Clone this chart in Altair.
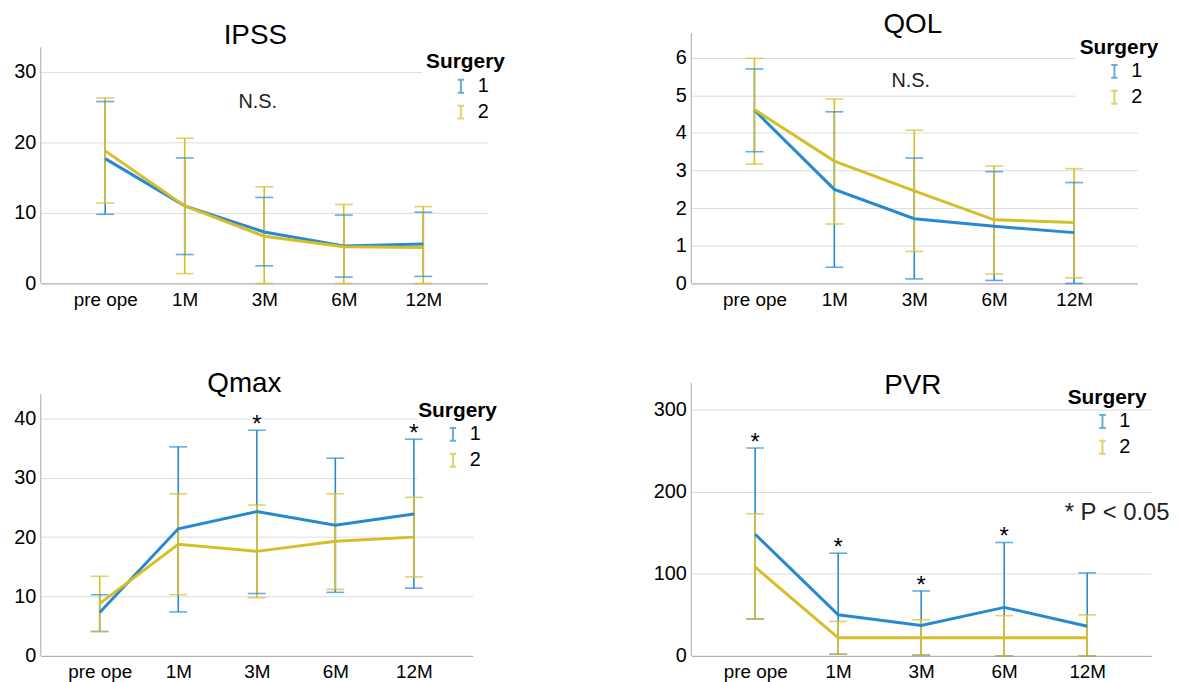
import altair as alt
import pandas as pd

FONT = "Liberation Sans"
BLUE = "#2889d0"
YELLOW = "#d6be28"
AXIS_GRAY = "#a8a8a8"
GRID_GRAY = "#dcdcdc"

times = ["pre ope", "1M", "3M", "6M", "12M"]
groups = ["1", "2"]

# IPSS
ipss_mean_1 = [17.7, 11.0, 7.3, 5.3, 5.6]
ipss_hi_1 = [25.8, 17.8, 12.2, 9.7, 10.1]
ipss_lo_1 = [9.8, 4.1, 2.5, 0.9, 1.0]
ipss_mean_2 = [18.8, 11.0, 6.7, 5.2, 5.1]
ipss_hi_2 = [26.3, 20.6, 13.7, 11.2, 10.9]
ipss_lo_2 = [11.4, 1.4, 0.0, 0.0, 0.0]

# QOL
qol_mean_1 = [4.60, 2.50, 1.72, 1.52, 1.35]
qol_hi_1 = [5.70, 4.56, 3.33, 2.97, 2.68]
qol_lo_1 = [3.50, 0.43, 0.12, 0.08, 0.00]
qol_mean_2 = [4.62, 3.25, 2.46, 1.69, 1.62]
qol_hi_2 = [5.98, 4.90, 4.07, 3.12, 3.05]
qol_lo_2 = [3.17, 1.58, 0.85, 0.25, 0.15]

# Qmax
qmax_mean_1 = [7.3, 21.4, 24.3, 22.0, 23.9]
qmax_hi_1 = [10.3, 35.2, 38.0, 33.3, 36.5]
qmax_lo_1 = [4.1, 7.4, 10.5, 10.7, 11.4]
qmax_mean_2 = [8.8, 18.8, 17.6, 19.3, 20.0]
qmax_hi_2 = [13.4, 27.3, 25.4, 27.3, 26.7]
qmax_lo_2 = [4.1, 10.3, 9.8, 11.2, 13.3]

# PVR
pvr_mean_1 = [148, 50, 37, 59, 36]
pvr_hi_1 = [253, 125, 79, 138, 101]
pvr_lo_1 = [45, 2, 1, 0, 0]
pvr_mean_2 = [108, 22, 22, 22, 22]
pvr_hi_2 = [173, 42, 44, 49, 50]
pvr_lo_2 = [45, 2, 1, 0, 0]

qmax_star_times = ["3M", "12M"]
pvr_star_times = ["pre ope", "1M", "3M", "6M"]

ISHAPE = "M-0.5,-1H0.5M0,-1V1M-0.5,1H0.5"


def build_df(series):
    rows = []
    for g, (m, h, l) in zip(groups, series):
        for i, t in enumerate(times):
            rows.append({"time": t, "order": i, "group": g,
                         "mean": m[i], "hi": h[i], "lo": l[i]})
    return pd.DataFrame(rows)


def panel(title, df, w, h, ymax, axis_top, ticks, xpad, tdx, toff,
          leg_x, leg_y, patch=None, notes=None, star_times=None):
    xs = alt.Scale(type="point", domain=times, padding=xpad)
    ys = alt.Scale(domain=[0, ymax], nice=False, zero=True)
    xaxis = alt.Axis(title=None, labelFont=FONT, labelFontSize=19, labelColor="black",
                     labelPadding=7, ticks=False, domainColor=AXIS_GRAY, grid=False,
                     labelAngle=0)
    yaxis = alt.Axis(title=None, values=ticks, labelFont=FONT, labelFontSize=20,
                     labelColor="black", labelPadding=5, ticks=False, domain=False,
                     grid=True, gridColor=GRID_GRAY, gridWidth=1)
    legend = alt.Legend(title="Surgery", orient="none", legendX=leg_x, legendY=leg_y,
                        direction="vertical", titleFont=FONT, titleFontSize=21,
                        titleFontWeight="bold", titleColor="black", titlePadding=4,
                        labelFont=FONT, labelFontSize=20, labelColor="black",
                        symbolType=ISHAPE, symbolSize=169, symbolStrokeWidth=2,
                        symbolOffset=25, labelOffset=7, rowPadding=4, padding=6)
    color = alt.Color("group:N", scale=alt.Scale(domain=groups, range=[BLUE, YELLOW]),
                      legend=legend)
    X = alt.X("time:N", scale=xs, sort=times, axis=xaxis)

    def Y(field):
        return alt.Y(field, scale=ys, axis=yaxis)

    layers = []
    base = alt.Chart(df)
    # y axis line (drawn from 0 to the top of the axis)
    axis_df = pd.DataFrame({"time": ["pre ope"], "y0": [0.0], "y1": [axis_top]})
    layers.append(alt.Chart(axis_df).mark_rule(color=AXIS_GRAY, strokeWidth=1).encode(
        x=alt.value(0), y=Y("y0:Q"), y2="y1:Q"))
    if patch is not None:
        layers.append(alt.Chart(pd.DataFrame({"k": [0]})).mark_rect(color="white").encode(
            x=alt.value(patch[0]), x2=alt.value(patch[1]),
            y=alt.value(patch[2]), y2=alt.value(patch[3])))
    layers.append(base.mark_rule(strokeWidth=1.6).encode(
        x=X, y=Y("lo:Q"), y2="hi:Q", color=color))
    for f in ["hi", "lo"]:
        layers.append(base.mark_tick(thickness=1.6, size=18).encode(
            x=X, y=Y(f + ":Q"), color=color))
    layers.append(base.mark_line(strokeWidth=3).encode(
        x=X, y=Y("mean:Q"), color=color, order=alt.Order("order:Q")))
    if star_times:
        sdf = df[(df["group"] == "1") & (df["time"].isin(star_times))]
        layers.append(alt.Chart(sdf).mark_text(text="*", font=FONT, fontSize=24,
                                               baseline="alphabetic", dy=2, color="black").encode(
            x=X, y=Y("hi:Q")))
    if notes:
        for (txt, nx, ny, align, fs) in notes:
            layers.append(alt.Chart(pd.DataFrame({"t": [txt]})).mark_text(
                font=FONT, fontSize=fs, align=align, baseline="alphabetic",
                color="#222222").encode(text="t:N", x=alt.value(nx), y=alt.value(ny)))
    return alt.layer(*layers).properties(
        width=w, height=h,
        title=alt.TitleParams(text=title, font=FONT, fontSize=28, fontWeight="normal",
                              color="black", anchor="middle", frame="group",
                              dx=tdx, offset=toff, baseline="alphabetic"))


ipss = panel("IPSS", build_df([(ipss_mean_1, ipss_hi_1, ipss_lo_1),
                               (ipss_mean_2, ipss_hi_2, ipss_lo_2)]),
             450, 252, 35.5, 33.5, [0, 10, 20, 30], 0.81, -9, -38.8, 382, 12.5,
             patch=(384, 450, 0, 98), notes=[("N.S.", 218.5, 75.7, "center", 20)])
qol = panel("QOL", build_df([(qol_mean_1, qol_hi_1, qol_lo_1),
                             (qol_mean_2, qol_hi_2, qol_lo_2)]),
            449, 252, 6.65, 6.65, [0, 1, 2, 3, 4, 5, 6], 0.79, -1.5, -30.2, 385, -2.5,
            patch=(387, 449, 0, 79), notes=[("N.S.", 221, 54.7, "center", 20)])
qmax = panel("Qmax", build_df([(qmax_mean_1, qmax_hi_1, qmax_lo_1),
                               (qmax_mean_2, qmax_hi_2, qmax_lo_2)]),
             435, 275, 46.0, 44.1, [0, 10, 20, 30, 40], 0.75, -12.5, -37.5, 374, 11,
             patch=(379, 435, 0, 100), star_times=qmax_star_times)
pvr = panel("PVR", build_df([(pvr_mean_1, pvr_hi_1, pvr_lo_1),
                             (pvr_mean_2, pvr_hi_2, pvr_lo_2)]),
            463, 275, 332.5, 332.5, [0, 100, 200, 300], 0.77, -8.5, -41.5, 373, -2,
            notes=[("* P < 0.05", 376, 138, "left", 24)], star_times=pvr_star_times)

chart = alt.concat(ipss, qol, qmax, pvr, columns=2,
                   spacing={"row": 100, "column": 205}, bounds="flush").resolve_scale(
    color="independent").resolve_legend(color="independent").properties(
    padding={"left": 5, "top": 0, "right": 0, "bottom": 0},
    background="white"
).configure_view(strokeWidth=0)

chart.save("out.html", embed_options={"renderer": "svg", "actions": False})
